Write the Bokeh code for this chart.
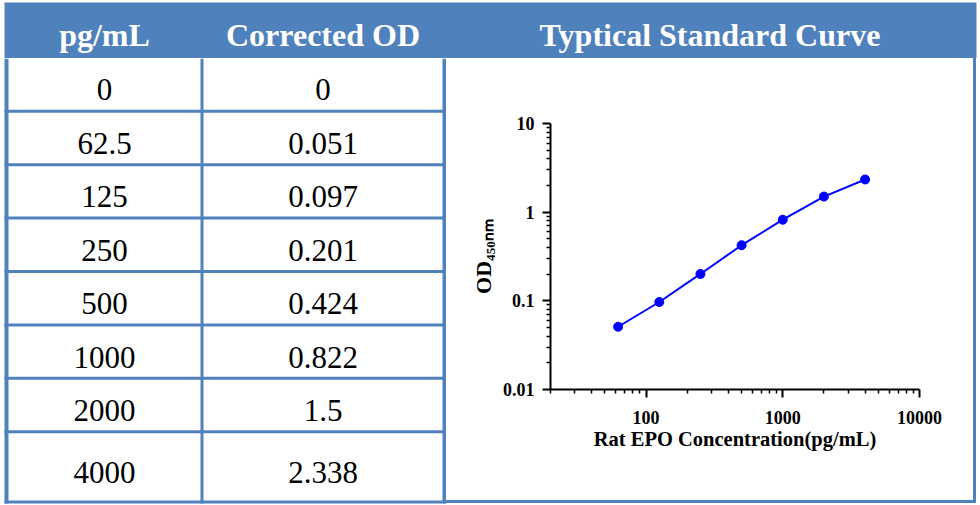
from bokeh.plotting import figure
from bokeh.layouts import column, row
from bokeh.models import Range1d, FixedTicker, CustomJSTickFormatter, Spacer
from bokeh.core.properties import value
from bokeh.embed import file_html
from bokeh.resources import INLINE

# ---------------- data ----------------
headers = ["pg/mL", "Corrected OD", "Typtical Standard Curve"]
pg_ml = [0, 62.5, 125, 250, 500, 1000, 2000, 4000]
corrected_od = [0, 0.051, 0.097, 0.201, 0.424, 0.822, 1.5, 2.338]
x_major = [100, 1000, 10000]
y_major = [0.01, 0.1, 1, 10]
x_label = "Rat EPO Concentration(pg/mL)"
y_label = "OD\u2084\u2085\u2080\u2099\u2098"

# ---------------- style / layout ----------------
BLUE = "#4f81bd"
SERIF = "Liberation Serif"
W, HH = 980, 58
TH = 447            # table / chart row height
TW = 446            # table figure width
CW = 527            # chart cell width
CH = 442            # chart figure height


def blank(p, bg):
    p.background_fill_color = bg
    p.border_fill_color = bg
    p.outline_line_color = None
    p.grid.visible = False
    return p


# header
hdr = figure(width=W, height=HH, x_range=Range1d(0, W), y_range=Range1d(HH, 0),
             toolbar_location=None, output_backend="svg", min_border=0,
             x_axis_location=None, y_axis_location=None)
blank(hdr, "white")
hdr.quad(left=[4], right=[976], top=[2], bottom=[HH], color=BLUE, line_color=None)
hdr.text(x=[104, 322.5, 709.5], y=[34, 34, 34], text=headers,
         text_font=value(SERIF), text_font_style="bold", text_font_size="32px",
         text_color="white", text_align="center", text_baseline="middle")

# table
tbl = figure(width=TW, height=TH, x_range=Range1d(0, TW), y_range=Range1d(TH, 0),
             toolbar_location=None, output_backend="svg", min_border=0,
             x_axis_location=None, y_axis_location=None)
blank(tbl, "white")
BOT = 445
tbl.quad(left=[4, 200, 442], right=[8, 203, TW], top=[0, 0, 0],
         bottom=[BOT, BOT, BOT], color=BLUE, line_color=None)
line_c = [52.8 + 53.4 * k for k in range(len(pg_ml) - 1)]
n = len(line_c) + 1
tbl.quad(left=[4] * n, right=[TW] * n,
         top=[c - 1.5 for c in line_c] + [BOT - 3],
         bottom=[c + 1.5 for c in line_c] + [BOT], color=BLUE, line_color=None)
tops = [0] + [c + 1.5 for c in line_c]
bots = [c - 1.5 for c in line_c] + [BOT - 3]
row_y = [(t + b) / 2 + 5.5 for t, b in zip(tops, bots)]
tbl.text(x=[104] * len(pg_ml), y=row_y, text=[f"{v:g}" for v in pg_ml],
         text_font=value(SERIF), text_font_size="31px", text_color="black",
         text_align="center", text_baseline="middle")
tbl.text(x=[322.5] * len(corrected_od), y=row_y, text=[f"{v:g}" for v in corrected_od],
         text_font=value(SERIF), text_font_size="31px", text_color="black",
         text_align="center", text_baseline="middle")

# chart
ch = figure(width=CW, height=CH, x_axis_type="log", y_axis_type="log",
            x_range=Range1d(20, 10000), y_range=Range1d(0.01, 10),
            min_border_left=104, min_border_right=54, min_border_top=65,
            min_border_bottom=111, toolbar_location=None, output_backend="svg")
blank(ch, "white")
xs = [c for c in pg_ml if c > 0]
ys = [o for c, o in zip(pg_ml, corrected_od) if c > 0]
ch.line(xs, ys, line_color="#0000ff", line_width=2)
ch.scatter(xs, ys, size=9, color="#0000ff")

x_minor = [d * k for d in (10, 100, 1000) for k in range(2, 10) if 20 <= d * k <= 10000]
y_minor = [round(d * k, 4) for d in (0.01, 0.1, 1) for k in range(2, 10)]
ch.xaxis.ticker = FixedTicker(ticks=x_major, minor_ticks=x_minor)
ch.yaxis.ticker = FixedTicker(ticks=y_major, minor_ticks=y_minor)
ch.xaxis.axis_label = x_label
ch.yaxis.axis_label = y_label
for ax in (ch.xaxis[0], ch.yaxis[0]):
    ax.axis_line_width = 2
    ax.axis_line_color = "black"
    ax.major_tick_line_width = 2
    ax.major_tick_line_color = "black"
    ax.major_tick_out = 8
    ax.major_tick_in = 0
    ax.minor_tick_line_width = 1.5
    ax.minor_tick_line_color = "black"
    ax.minor_tick_out = 4
    ax.minor_tick_in = 0
    ax.major_label_text_font = SERIF
    ax.major_label_text_font_style = "bold"
    ax.major_label_text_font_size = "18px"
    ax.major_label_text_color = "black"
    ax.axis_label_text_font = SERIF
    ax.axis_label_text_font_style = "bold"
    ax.axis_label_text_color = "black"
    ax.formatter = CustomJSTickFormatter(code="return tick.toString();")
ch.xaxis.major_label_standoff = 13
ch.xaxis.axis_label_standoff = 1
ch.xaxis.axis_label_text_font_size = "20.5px"
ch.yaxis.major_label_standoff = 8
ch.yaxis.axis_label_standoff = 4
ch.yaxis.axis_label_text_font_size = "22px"

bstrip = Spacer(width=CW, height=3, styles={"background-color": BLUE})
rstrip = Spacer(width=3, height=BOT, styles={"background-color": BLUE})

layout = column(hdr, row(tbl, column(ch, bstrip), rstrip))
open("out.html", "w").write(file_html(layout, INLINE))
